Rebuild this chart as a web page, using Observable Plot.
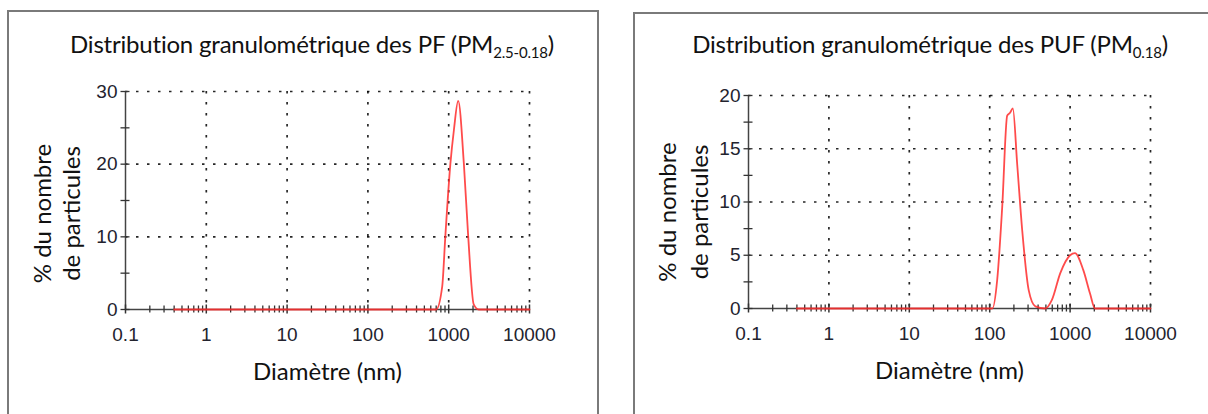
<!DOCTYPE html>
<html><head><meta charset="utf-8">
<script src="https://cdn.jsdelivr.net/npm/d3@7"></script>
<script src="https://cdn.jsdelivr.net/npm/@observablehq/plot@0.6"></script>
<style>
html,body{margin:0;padding:0;background:#fff;overflow:hidden;width:1208px;height:414px;}
.panel{position:absolute;border:2px solid #7a7a7a;box-sizing:border-box;}
.title{position:absolute;font-family:Lato,sans-serif;font-size:24px;color:#111;text-align:center;white-space:nowrap;transform:translateX(-50%);letter-spacing:-0.2px;}
.title sub{font-size:15px;vertical-align:-5px;}
.chart{position:absolute;}
</style></head><body>
<div class="panel" style="left:7px;top:10px;width:592px;height:430px;"></div>
<div class="panel" style="left:633px;top:12px;width:600px;height:430px;"></div>
<div class="title" style="left:312px;top:29px;">Distribution granulométrique des PF (PM<sub>2.5-0.18</sub>)</div>
<div class="title" style="left:930px;top:29px;">Distribution granulométrique des PUF (PM<sub>0.18</sub>)</div>
<div class="chart" id="c1" style="left:8px;top:70px;"></div>
<div class="chart" id="c2" style="left:633px;top:70px;"></div>
<script>
// Data
const pfDiam = [0.4, 700, 830, 910, 1050, 1160, 1310, 1540, 1740, 2040, 2350, 10000];
const pfPct  = [0, 0, 3.1, 10.2, 20.1, 24.7, 28.7, 20.1, 10.2, 0.7, 0, 0];
const pufDiam = [0.4, 108, 124, 143, 165, 180, 194, 220, 254, 306, 370, 490, 594, 753, 1000, 1150, 1460, 1770, 2040, 10000];
const pufPct  = [0, 0, 2.7, 9.5, 18.1, 18.4, 18.8, 13.5, 7.3, 1.7, 0.2, 0, 0.8, 3.3, 5.0, 5.2, 3.6, 1.4, 0, 0];
const xMajor = [0.1, 1, 10, 100, 1000, 10000];
const xTickLabels = ["0.1", "1", "10", "100", "1000", "10000"];
const pfYMajor = [0, 10, 20, 30];
const pfYMinor = [5, 15, 25];
const pufYMajor = [0, 5, 10, 15, 20];
const pufYMinor = [2.5, 7.5, 12.5, 17.5];
const xTitle = "Diamètre (nm)";
const yTitle1 = "% du nombre";
const yTitle2 = "de particules";

const xMinor = [];
for (const d of xMajor.slice(0, -1)) for (let k = 2; k <= 9; k++) xMinor.push(d * k);

function chart({diam, pct, yMajor, yMinor, yMax, width, ml, mr, mt, mb, ydy, dx1, dx2}) {
  const data = diam.map((d, i) => ({d, v: pct[i]}));
  const height = 330;
  const grid = {stroke: "#000", strokeOpacity: 0.85, strokeWidth: 1.7, strokeDasharray: "2.5,8.5"};
  const lab = {fontFamily: "Lato, sans-serif", fontSize: 24, fill: "#111"};
  return Plot.plot({
    width, height, marginLeft: ml, marginRight: mr, marginTop: mt, marginBottom: mb,
    style: {fontFamily: "Liberation Sans, Arial, sans-serif", fontSize: "19px", color: "#23232e", background: "transparent", overflow: "visible"},
    x: {type: "log", domain: [0.1, 10000]},
    y: {domain: [0, yMax]},
    marks: [
      Plot.gridX(xMajor.slice(1), {...grid}),
      Plot.gridY(yMajor.slice(1), {...grid}),
      Plot.ruleX([0.1], {stroke: "#444", strokeWidth: 1.5}),
      Plot.ruleY([0], {stroke: "#444", strokeWidth: 1.5}),
      Plot.axisX(xMinor, {tickSize: 7, dy: -3.5, text: null, stroke: "#333", strokeWidth: 1.3, label: null}),
      Plot.axisX(xMajor, {tickSize: 9, dy: -4.5, text: null, stroke: "#333", strokeWidth: 1.5, label: null}),
      Plot.axisX(xMajor, {tickSize: 0, tickPadding: 18, fontSize: 19, tickFormat: d => xTickLabels[xMajor.indexOf(d)], label: null}),
      Plot.axisY(yMajor.concat(yMinor), {tickSize: 9, dx: 4.5, text: null, stroke: "#333", strokeWidth: 1.3, label: null}),
      Plot.axisY(yMajor, {tickSize: 0, tickPadding: 8, fontSize: 19, label: null}),
      Plot.line(data, {x: "d", y: "v", stroke: "#ff2b2b", strokeWidth: 1.8, strokeOpacity: 0.85, curve: "monotone-x"}),
      Plot.text([xTitle], {frameAnchor: "bottom", dy: 70, ...lab}),
      Plot.text([yTitle1], {frameAnchor: "left", textAnchor: "middle", rotate: -90, dx: dx1, dy: ydy, ...lab}),
      Plot.text([yTitle2], {frameAnchor: "left", textAnchor: "middle", rotate: -90, dx: dx2, dy: ydy, ...lab})
    ]
  });
}

document.getElementById("c1").append(chart({diam: pfDiam, pct: pfPct, yMajor: pfYMajor, yMinor: pfYMinor, yMax: 30, width: 591, ml: 117, mr: 70, mt: 21, mb: 91, ydy: 13, dx1: -82, dx2: -53}));
document.getElementById("c2").append(chart({diam: pufDiam, pct: pufPct, yMajor: pufYMajor, yMinor: pufYMinor, yMax: 20, width: 575, ml: 115, mr: 58, mt: 25, mb: 92, ydy: 10, dx1: -80, dx2: -48}));
</script>
</body></html>
